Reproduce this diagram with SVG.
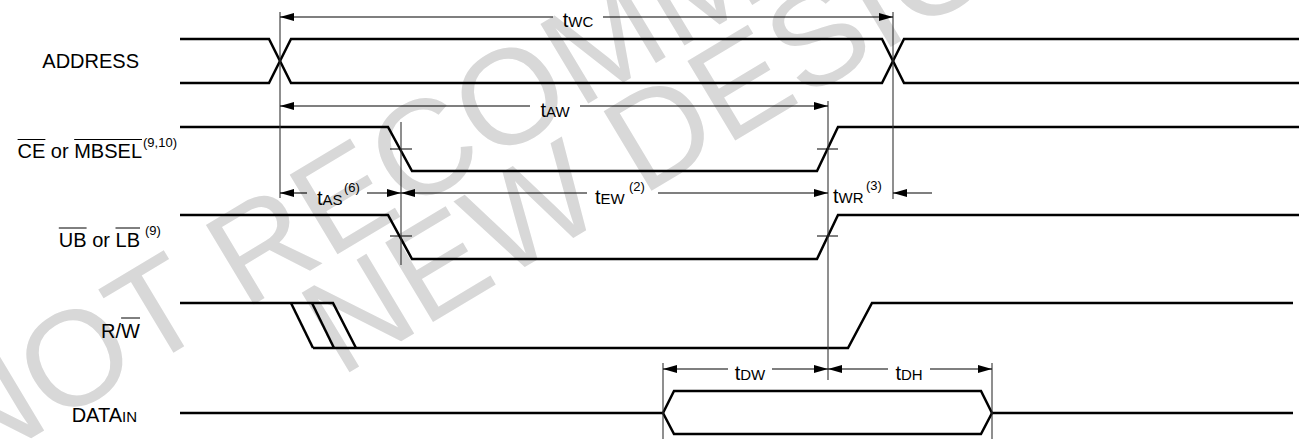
<svg xmlns="http://www.w3.org/2000/svg" width="1304" height="439" viewBox="0 0 1304 439">
<style>
.sig{fill:none;stroke:#000;stroke-width:2.5;stroke-linejoin:miter}
.ref{fill:none;stroke:#333;stroke-width:1.1}
.dim{fill:none;stroke:#000;stroke-width:1.1}
.tick{fill:none;stroke:#000;stroke-width:1}
.ovl{fill:none;stroke:#000;stroke-width:1}
.lbl{font-family:"Liberation Sans",Arial,sans-serif;font-size:20px;fill:#000}
.t{font-family:"Liberation Sans",Arial,sans-serif;font-size:20px;fill:#000}
.sub{font-size:15px}
.sup{font-family:"Liberation Sans",Arial,sans-serif;font-size:13px;fill:#000}
.wm{font-family:"Liberation Sans",Arial,sans-serif;font-size:135px;fill:#d8d8d8}
</style>
<defs>
<marker id="ah" viewBox="0 0 14 8" markerWidth="14" markerHeight="8" refX="14" refY="4" orient="auto" markerUnits="userSpaceOnUse">
<path d="M0,0 L14,4 L0,8 z" fill="#000"/>
</marker>
</defs>
<rect width="1304" height="439" fill="#fff"/>
<g id="watermark">
<text class="wm" transform="translate(-30,475) rotate(-31)">NOT RECOMMENDED</text>
<text class="wm" transform="translate(340,378) rotate(-31)">NEW DESIGNS</text>
</g>
<g id="address">
<text class="lbl" x="139" y="68" text-anchor="end">ADDRESS</text>
<path class="sig" d="M180,39 H269 L291,83 H882 L904,39 H1299"/>
<path class="sig" d="M180,83 H269 L291,39 H882 L904,83 H1299"/>
</g>
<g id="ce">
<text class="lbl" x="142" y="158" text-anchor="end">CE or MBSEL</text>
<line class="ovl" x1="17.6" y1="139.5" x2="45.4" y2="139.5"/>
<line class="ovl" x1="74.2" y1="139.5" x2="142" y2="139.5"/>
<text class="sup" x="143" y="147">(9,10)</text>
<path class="sig" d="M180,127 H388 L412,171 H817 L838,127 H1299"/>
<line class="tick" x1="390" y1="149" x2="412" y2="149"/>
<line class="tick" x1="817" y1="149" x2="838" y2="149"/>
</g>
<g id="ub">
<text class="lbl" x="140" y="247" text-anchor="end">UB or LB</text>
<line class="ovl" x1="58.8" y1="228" x2="86.6" y2="228"/>
<line class="ovl" x1="115.5" y1="228" x2="140" y2="228"/>
<text class="sup" x="145" y="235">(9)</text>
<path class="sig" d="M180,215 H388 L412,259 H817 L838,215 H1299"/>
<line class="tick" x1="390" y1="236" x2="412" y2="236"/>
<line class="tick" x1="817" y1="236" x2="838" y2="236"/>
</g>
<g id="rw">
<text class="lbl" x="140" y="338" text-anchor="end">R/W</text>
<line class="ovl" x1="121.1" y1="318" x2="140" y2="318"/>
<path class="sig" d="M180,303 H333 L356,348"/>
<path class="sig" d="M291,303 L313,348"/>
<path class="sig" d="M312,303 L334,348"/>
<path class="sig" d="M313,348 H848 L872,303 H1293"/>
</g>
<g id="datain">
<text class="lbl" x="137" y="422" text-anchor="end">DATA<tspan class="sub">IN</tspan></text>
<path class="sig" d="M180,413 H663 L674,391 H981 L992,413 H1293"/>
<path class="sig" d="M663,413 L674,434 H981 L992,413"/>
</g>
<g id="connectors">
<line class="ref" x1="280" y1="12" x2="280" y2="198"/>
<line class="ref" x1="893" y1="12" x2="893" y2="199"/>
<line class="ref" x1="401" y1="122" x2="401" y2="265"/>
<line class="ref" x1="828" y1="101" x2="828" y2="380"/>
<line class="ref" x1="663" y1="363" x2="663" y2="439"/>
<line class="ref" x1="992" y1="363" x2="992" y2="439"/>
<line class="dim" x1="553" y1="17" x2="280" y2="17" marker-end="url(#ah)"/>
<line class="dim" x1="603" y1="17" x2="893" y2="17" marker-end="url(#ah)"/>
<text class="t" x="578" y="27" text-anchor="middle">t<tspan class="sub">WC</tspan></text>
<line class="dim" x1="530" y1="106" x2="280" y2="106" marker-end="url(#ah)"/>
<line class="dim" x1="580" y1="106" x2="828" y2="106" marker-end="url(#ah)"/>
<text class="t" x="555" y="117" text-anchor="middle">t<tspan class="sub">AW</tspan></text>
<line class="dim" x1="307" y1="193" x2="280" y2="193" marker-end="url(#ah)"/>
<line class="dim" x1="367" y1="193" x2="401" y2="193" marker-end="url(#ah)"/>
<text class="t" x="317" y="205">t<tspan class="sub">AS</tspan></text>
<text class="sup" x="344" y="192">(6)</text>
<line class="dim" x1="587" y1="193" x2="401" y2="193" marker-end="url(#ah)"/>
<line class="dim" x1="658" y1="193" x2="828" y2="193" marker-end="url(#ah)"/>
<text class="t" x="595" y="204">t<tspan class="sub">EW</tspan></text>
<text class="sup" x="629" y="191">(2)</text>
<line class="dim" x1="932" y1="193" x2="893" y2="193" marker-end="url(#ah)"/>
<text class="t" x="833" y="203">t<tspan class="sub">WR</tspan></text>
<text class="sup" x="866" y="190">(3)</text>
<line class="dim" x1="728" y1="369" x2="663" y2="369" marker-end="url(#ah)"/>
<line class="dim" x1="772" y1="369" x2="828" y2="369" marker-end="url(#ah)"/>
<text class="t" x="750" y="380" text-anchor="middle">t<tspan class="sub">DW</tspan></text>
<line class="dim" x1="888" y1="369" x2="828" y2="369" marker-end="url(#ah)"/>
<line class="dim" x1="930" y1="369" x2="992" y2="369" marker-end="url(#ah)"/>
<text class="t" x="909" y="380" text-anchor="middle">t<tspan class="sub">DH</tspan></text>
</g>
</svg>
